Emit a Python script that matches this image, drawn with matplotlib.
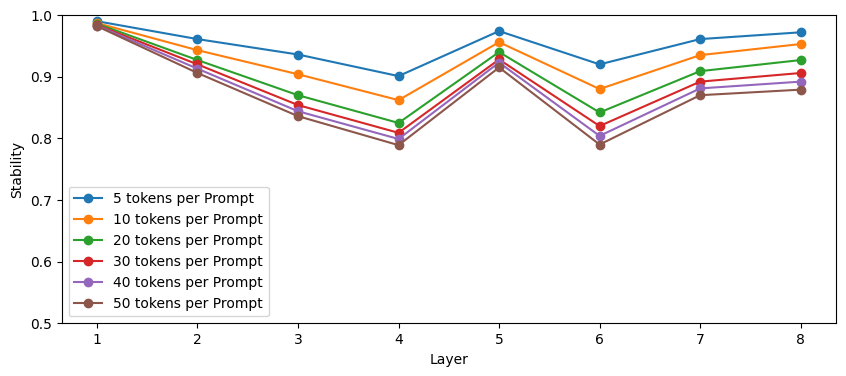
import matplotlib
matplotlib.use("Agg")
import matplotlib.pyplot as plt


layers = [1, 2, 3, 4, 5, 6, 7, 8]

labels = [
    "5 tokens per Prompt",
    "10 tokens per Prompt",
    "20 tokens per Prompt",
    "30 tokens per Prompt",
    "40 tokens per Prompt",
    "50 tokens per Prompt",
]

stab_5 = [0.990, 0.961, 0.936, 0.901, 0.974, 0.920, 0.961, 0.972]
stab_10 = [0.987, 0.943, 0.904, 0.862, 0.956, 0.880, 0.935, 0.953]
stab_20 = [0.986, 0.927, 0.870, 0.825, 0.940, 0.842, 0.909, 0.927]
stab_30 = [0.984, 0.920, 0.854, 0.809, 0.928, 0.820, 0.892, 0.906]
stab_40 = [0.983, 0.913, 0.844, 0.799, 0.923, 0.804, 0.881, 0.892]
stab_50 = [0.982, 0.906, 0.836, 0.789, 0.915, 0.790, 0.870, 0.879]

series = [stab_5, stab_10, stab_20, stab_30, stab_40, stab_50]


def main():
    fig, ax = plt.subplots(figsize=(8.46, 3.76), dpi=100)
    fig.subplots_adjust(left=0.073, right=0.988, top=0.96, bottom=0.14)

    for values, label in zip(series, labels):
        ax.plot(layers, values, marker="o", label=label)

    ax.set_ylim(0.5, 1.0)
    ax.set_xticks(layers)
    ax.set_xlabel("Layer")
    ax.set_ylabel("Stability")
    ax.legend(loc="lower left")

    fig.savefig("out.png", dpi=100)


if __name__ == "__main__":
    main()
